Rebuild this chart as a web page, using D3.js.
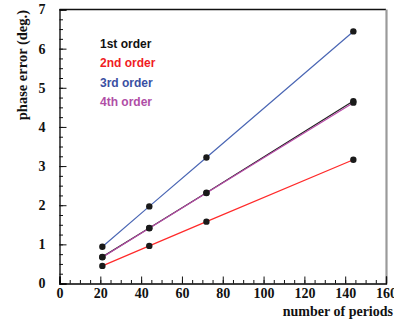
<!DOCTYPE html>
<html>
<head>
<meta charset="utf-8">
<script src="https://cdn.jsdelivr.net/npm/d3@7"></script>
<style>
body { margin: 0; background: #fff; }
</style>
</head>
<body>
<div id="chart"></div>
<script>
"use strict";

// Size of SVG
const w = 394;
const h = 325;

// Data
const periods = [21, 44, 72, 144];
const order1 = [0.68, 1.42, 2.32, 4.66];
const order2 = [0.45, 0.96, 1.58, 3.16];
const order3 = [0.94, 1.97, 3.22, 6.44];
const order4 = [0.67, 1.41, 2.31, 4.62];
const seriesNames = ["1st order", "2nd order", "3rd order", "4th order"];
const xTicks = [0, 20, 40, 60, 80, 100, 120, 140, 160];
const yTicks = [0, 1, 2, 3, 4, 5, 6, 7];

const lineColors = ["#222222", "#ff2a2a", "#4a66b4", "#b84ca8"];
const textColors = ["#111111", "#f01c24", "#3a4fa2", "#b04ea6"];

const x = d3.scaleLinear().domain([0, 160]).range([59.5, 386]);
const y = d3.scaleLinear().domain([0, 7]).range([283.5, 9.5]);

const svg = d3.select("#chart")
	.append("svg")
	.attr("width", w)
	.attr("height", h);

const serif = "'Liberation Serif', 'Times New Roman', serif";

// Frame: top line dark, right line grey
svg.append("line")
	.attr("x1", x(0)).attr("x2", x(160))
	.attr("y1", y(7)).attr("y2", y(7))
	.attr("stroke", "#111").attr("stroke-width", 1.3);
svg.append("line")
	.attr("x1", x(160) + 0.5).attr("x2", x(160) + 0.5)
	.attr("y1", y(7)).attr("y2", y(0))
	.attr("stroke", "#9a9a9a").attr("stroke-width", 2.2);

// X axis with inward ticks
const xAxis = svg.append("g")
	.attr("transform", "translate(0," + y(0) + ")");
xAxis.append("g")
	.call(d3.axisBottom(x).tickValues(d3.range(0, 161, 5)).tickSize(-3.5).tickFormat(""))
	.call(g => g.select(".domain").remove());
xAxis.append("g")
	.call(d3.axisBottom(x).tickValues(xTicks).tickSize(-7).tickPadding(5).tickFormat(d3.format("d")))
	.call(g => g.select(".domain").attr("stroke-width", 1.3));
xAxis.selectAll("line").attr("stroke", "#111").attr("stroke-width", 1);
xAxis.selectAll("text")
	.attr("font-family", serif)
	.attr("font-weight", "bold")
	.attr("font-size", "14px")
	.attr("fill", "#111");

// Y axis with inward ticks
const yAxis = svg.append("g")
	.attr("transform", "translate(" + x(0) + ",0)");
yAxis.append("g")
	.call(d3.axisLeft(y).tickValues(d3.range(0, 7.01, 0.25)).tickSize(-3.5).tickFormat(""))
	.call(g => g.select(".domain").remove());
yAxis.append("g")
	.call(d3.axisLeft(y).tickValues(yTicks).tickSize(-7).tickPadding(14).tickFormat(d3.format("d")))
	.call(g => g.select(".domain").attr("stroke-width", 1.3));
yAxis.selectAll("line").attr("stroke", "#111").attr("stroke-width", 1);
yAxis.selectAll("text")
	.attr("font-family", serif)
	.attr("font-weight", "bold")
	.attr("font-size", "14px")
	.attr("fill", "#111");

// Axis titles
svg.append("text")
	.attr("x", 393)
	.attr("y", 316)
	.attr("text-anchor", "end")
	.attr("font-family", serif)
	.attr("font-weight", "bold")
	.attr("font-size", "14px")
	.attr("fill", "#111")
	.text("number of periods");

svg.append("text")
	.attr("transform", "translate(27,10) rotate(-90)")
	.attr("text-anchor", "end")
	.attr("font-family", serif)
	.attr("font-weight", "bold")
	.attr("font-size", "14.5px")
	.attr("fill", "#111")
	.text("phase error (deg.)");

// Lines and markers
const allSeries = [order3, order2, order1, order4];
const colorIdx = [2, 1, 0, 3];
const line = d3.line()
	.x((d, i) => x(periods[i]))
	.y(d => y(d));

allSeries.forEach((s, k) => {
	svg.append("path")
		.datum(s)
		.attr("d", line)
		.attr("fill", "none")
		.attr("stroke", lineColors[colorIdx[k]])
		.attr("stroke-width", 1.2);
});

allSeries.forEach(s => {
	svg.selectAll(null)
		.data(s)
		.enter()
		.append("circle")
		.attr("cx", (d, i) => x(periods[i]))
		.attr("cy", d => y(d))
		.attr("r", 3.2)
		.attr("fill", "#1a1a1a");
});

// Legend
svg.selectAll(".legend")
	.data(seriesNames)
	.enter()
	.append("text")
	.attr("class", "legend")
	.attr("x", 100)
	.attr("y", (d, i) => 48 + i * 19.3)
	.attr("font-family", "'Liberation Sans', Arial, sans-serif")
	.attr("font-weight", "bold")
	.attr("font-size", "12px")
	.attr("fill", (d, i) => textColors[i])
	.text(d => d);
</script>
</body>
</html>
